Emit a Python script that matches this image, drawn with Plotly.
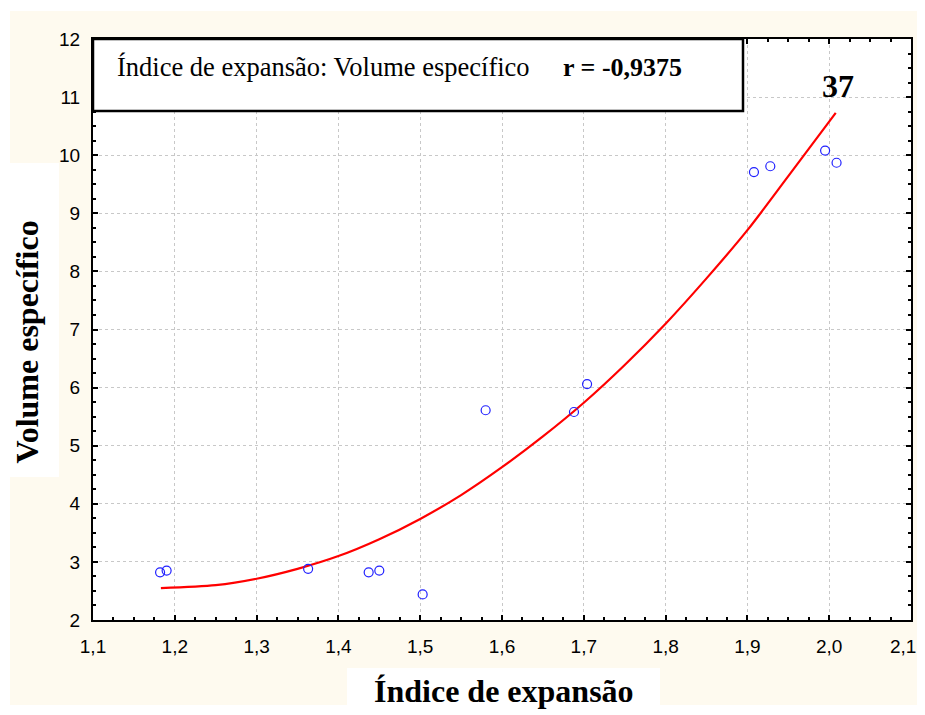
"""
Índice de expansão vs Volume específico: scatter with fitted curve.
"""

import plotly.graph_objects as go

# observed points
indice = [1.182, 1.190, 1.363, 1.437, 1.450, 1.503, 1.580, 1.688, 1.704,
          1.908, 1.928, 1.995, 2.009]
volume = [2.82, 2.85, 2.88, 2.82, 2.85, 2.44, 5.61, 5.58, 6.06,
          9.71, 9.81, 10.08, 9.87]

# fitted curve
curve_x = [1.183, 1.25, 1.30, 1.35, 1.40, 1.45, 1.50, 1.55, 1.60,
           1.65, 1.70, 1.75, 1.80, 1.85, 1.90, 1.95, 2.008]
curve_y = [2.55, 2.60, 2.71, 2.88, 3.10, 3.39, 3.74, 4.15, 4.63,
           5.16, 5.74, 6.39, 7.10, 7.88, 8.71, 9.64, 10.73]

x_ticks = [1.1, 1.2, 1.3, 1.4, 1.5, 1.6, 1.7, 1.8, 1.9, 2.0, 2.1]
y_ticks = [2, 3, 4, 5, 6, 7, 8, 9, 10, 11, 12]

x_title = "Índice de expansão"
y_title = "Volume específico"
box_label = "Índice de expansão: Volume específico"
r_label = "r = -0,9375"
count_label = "37"

# the page body adds an 8px margin, so the figure is shifted by 8px
W, H = 917, 707
L, R, T, B = 85, 14, 31, 95
PW, PH = W - L - R, H - T - B

SERIF = "Liberation Serif, Times New Roman, serif"
SANS = "Liberation Sans, Arial, sans-serif"
CREAM = "#FEFAEF"


# reference-picture pixels -> paper coords
def px(x):
    return (x - 93) / PW


def py(y):
    return (620 - y) / PH


def rect(x0, y0, x1, y1, fill, layer="below", line=None):
    return dict(type="rect", xref="paper", yref="paper",
                x0=px(x0), x1=px(x1), y0=py(y1), y1=py(y0),
                fillcolor=fill, layer=layer,
                line=line or dict(width=0))


x_labels = [f"{v:.1f}".replace(".", ",") for v in x_ticks]
# nudge the last label left so it stays inside the visible page
x_labels[-1] = x_labels[-1] + "\u00a0\u00a0\u00a0"

fig = go.Figure()
fig.add_trace(go.Scatter(
    x=curve_x, y=curve_y, mode="lines",
    line=dict(color="#FF0000", width=2.2, shape="spline", smoothing=0.8),
    hoverinfo="skip",
))
fig.add_trace(go.Scatter(
    x=indice, y=volume, mode="markers",
    marker=dict(symbol="circle-open", size=9, color="#2020FF",
                line=dict(width=1.2, color="#2020FF")),
))

axis_common = dict(
    showline=True, linecolor="black", linewidth=2, mirror="allticks",
    ticks="inside", ticklen=5, tickwidth=1.5, tickcolor="black",
    showgrid=True, gridcolor="#C8C8C8", gridwidth=1, griddash="dot",
    zeroline=False, ticklabeloverflow="allow", automargin=False,
    tickfont=dict(family=SANS, size=19, color="black"),
)

fig.update_layout(
    width=W, height=H, autosize=False,
    margin=dict(l=L, r=R, t=T, b=B),
    paper_bgcolor="white", plot_bgcolor="white",
    separators=",.",
    showlegend=False,
    xaxis=dict(range=[1.1, 2.1], tickmode="array", tickvals=x_ticks,
               ticktext=x_labels, ticklabelstandoff=8,
               minor=dict(dtick=0.025, tick0=1.1, ticks="inside", ticklen=3,
                          tickcolor="black", showgrid=False),
               **axis_common),
    yaxis=dict(range=[2, 12], tickmode="array", tickvals=y_ticks,
               ticklabelstandoff=7,
               minor=dict(dtick=0.25, tick0=2, ticks="inside", ticklen=3,
                          tickcolor="black", showgrid=False),
               **axis_common),
    shapes=[
        rect(10, 11, 925, 705, CREAM),
        rect(93, 39, 911, 620, "white"),
        rect(10, 163, 59, 477, "white"),
        rect(347, 668, 660, 715, "white"),
        rect(93, 39, 743, 111, "white", layer="above",
             line=dict(color="black", width=2.5)),
    ],
    annotations=[
        dict(text=box_label, x=px(115), y=py(67), xref="paper", yref="paper",
             xanchor="left", yanchor="middle", showarrow=False,
             font=dict(family=SERIF, size=26.5, color="black")),
        dict(text="<b>" + r_label + "</b>", x=px(561), y=py(67),
             xref="paper", yref="paper", xanchor="left", yanchor="middle",
             showarrow=False, font=dict(family=SERIF, size=26, color="black")),
        dict(text="<b>" + count_label + "</b>", x=px(838), y=py(86),
             xref="paper", yref="paper", xanchor="center", yanchor="middle",
             showarrow=False, font=dict(family=SERIF, size=32, color="black")),
        dict(text="<b>" + x_title + "</b>", x=px(503.5), y=py(691),
             xref="paper", yref="paper", xanchor="center", yanchor="middle",
             showarrow=False, font=dict(family=SERIF, size=32, color="black")),
        dict(text="<b>" + y_title + "</b>", x=px(26), y=py(342.5),
             xref="paper", yref="paper", xanchor="center", yanchor="middle",
             textangle=-90, showarrow=False,
             font=dict(family=SERIF, size=32, color="black")),
    ],
)

fig.write_html("out.html")
